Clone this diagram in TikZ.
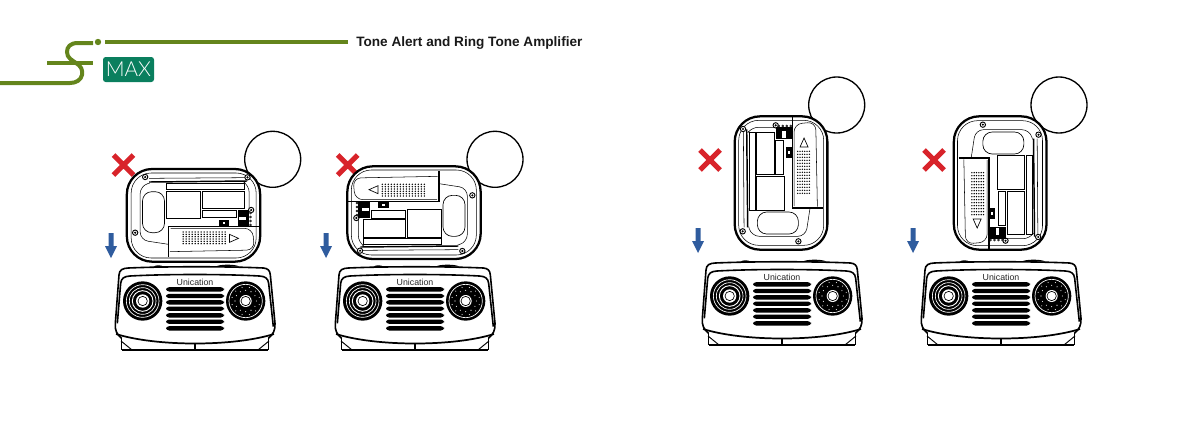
\documentclass[tikz,border=0pt]{standalone}
\usepackage{fontspec}
\setmainfont{Liberation Sans}
\newfontfamily\maxfont{Lato Light}
\definecolor{hdrgreen}{HTML}{64851C}
\definecolor{maxgreen}{HTML}{0A7F5E}
\definecolor{xred}{HTML}{D8232A}
\definecolor{arrblue}{HTML}{2F5C9E}
\tikzset{
  thinline/.style={line width=0.4pt,black},
  badmark/.style={draw=xred,line width=3.9pt},
  downarrow/.style={fill=arrblue,draw=none},
  refcircle/.style={draw=black,line width=1pt},
  titletext/.style={font=\fontsize{10.2}{12}\selectfont\bfseries,anchor=west,inner sep=0pt,text=black!90},
  unitext/.style={font=\fontsize{6.6}{8}\selectfont,text=black!85},
}
\newcommand{\screw}[2]{%
  \draw[line width=0.7pt,fill=white] (#1,#2) circle (8);
  \fill (#1,#2) circle (3.5);}
% pager drawn in a 3x grid, centre at (205,150)
\newcommand{\pagerat}[3]{%
\begin{scope}[shift={(#1,#2)},rotate=#3,scale=1/3,shift={(-205,-150)}]
  \draw[line width=1.7pt,fill=white,rounded corners=19pt] (5,12) rectangle (405,290);
  \draw[thinline,rounded corners=15pt] (18,24) rectangle (393,279);
  % recess
  \draw[thinline,rounded corners=6pt] (74,54) -- (45,62) -- (45,225) -- (130,238);
  \draw[thinline,rounded corners=5pt] (360,54) -- (372,62) -- (372,135);
  % top bar
  \draw[line width=1.1pt] (72,51) -- (366,48);
  \draw[thinline] (72,40) -- (360,38);
  \screw{60}{36}\screw{367}{37}\screw{30}{203}\screw{378}{135}
  % compartments
  \draw[thinline] (122,55) rectangle (358,73);
  \draw[line width=0.5pt] (122,78) rectangle (225,160);
  \draw[line width=0.5pt] (230,78) rectangle (358,130);
  \draw[line width=0.5pt] (230,135) rectangle (332,158);
  \draw[line width=0.5pt,rounded corners=7pt] (52,80) rectangle (118,203);
  % switch block
  \fill (337,135) rectangle (372,185);
  \fill[white] (340,155) rectangle (362,165);
  \fill (280,166) rectangle (312,184);
  \fill[white] (293,172) rectangle (300,178);
  \foreach \yy in {144,156,168,180} \draw[line width=0.35pt,fill=white] (376,\yy) circle (3);
  % battery door
  \draw[line width=1.2pt] (130,276) -- (130,185) -- (405,185);
  \draw[thinline,rounded corners=6pt] (136,190) -- (382,190) -- (388,255) -- (134,260);
  \foreach \gx in {174,183,...,300} \foreach \gy in {201,208,...,237}
     \fill (\gx,\gy) circle (2.3);
  \draw[line width=0.5pt] (313,208) -- (313,232) -- (340,220) -- cycle;
\end{scope}}
% speaker drawn in a 3x grid
\newcommand{\speakerat}[2]{%
\begin{scope}[shift={(#1,#2)},scale=1/3]
  % bumps
  \fill (160,36) .. controls (165,29) and (185,29) .. (192,36) -- cycle;
  \fill (348,35) .. controls (355,27) and (410,27) .. (418,35) -- cycle;
  % outer body
  \draw[line width=1.2pt,line join=round] (65,250) .. controls (50,238) and (44,225) .. (46,205) -- (57,60)
     .. controls (58,44) and (68,40) .. (85,39) .. controls (200,34) and (380,34) .. (490,39)
     .. controls (503,40) and (510,46) .. (511,60) -- (525,205) .. controls (526,225) and (520,238) .. (505,250);
  % inner panel
  \draw[line width=1.2pt] (52,205) -- (62,85) .. controls (64,70) and (72,64) .. (90,63)
     .. controls (200,57) and (370,57) .. (478,63) .. controls (496,64) and (504,70) .. (506,85) -- (520,215);
  % bottom arc
  \draw[line width=1.3pt] (48,237) .. controls (170,275) and (400,275) .. (522,237);
  % base
  \draw[line width=1.5pt] (65,284) -- (505,284);
  \draw[line width=0.8pt] (65,248) -- (65,284) (505,248) -- (505,284) (285,268) -- (285,284);
  \draw[line width=0.7pt] (63,258) -- (95,284) (507,258) -- (475,284);
  % label
  \node[unitext] (brand) at (285,82) {Unication};
  % grille
  \foreach \gy in {103,123,142,161,181,200,220}
    \fill[rounded corners=2.3pt] (198,\gy-6.5) rectangle (372,\gy+6.5);
  % left driver
  \fill (128,138) circle (59);
  \draw[white,line width=0.5pt] (128,138) circle (49);
  \draw[white,line width=0.5pt] (128,138) circle (40);
  \draw[white,line width=0.7pt] (128,138) circle (31);
  \fill[white] (128,138) circle (20);
  \draw[line width=0.5pt] (128,138) circle (14);
  % right driver
  \fill (437,138) circle (59);
  \draw[white,line width=0.5pt] (437,138) circle (50);
  \foreach \rr/\st in {42/15,32/0} \foreach \aa in {0,30,...,330}
    \fill[white] (437,138) ++({\aa+\st}:\rr) circle (1.6);
  \fill[white] (437,138) circle (18);
  \draw[line width=0.5pt] (437,138) circle (14);
\end{scope}}
\newcommand{\crossat}[2]{%
  \draw[badmark] (#1-10,#2-10) -- (#1+10,#2+10) (#1-10,#2+10) -- (#1+10,#2-10);}
\newcommand{\darrowat}[2]{%
  \fill[downarrow] (#1-2.5,#2) -- (#1+2.5,#2) -- (#1+2.5,#2+13) -- (#1+6,#2+13) -- (#1,#2+25)
    -- (#1-6,#2+13) -- (#1-2.5,#2+13) -- cycle;}
\begin{document}
\begin{tikzpicture}[x=0.75pt,y=-0.75pt]
\useasboundingbox (0,0) rectangle (1191,422);
% header
\draw[hdrgreen,line width=3.1pt] (105,42) -- (348,42);
\fill[hdrgreen] (98,42) circle (3.2);
\draw[hdrgreen,line width=3pt] (93,43) -- (78,43) .. controls (70,43) and (67,47) .. (67,52)
   .. controls (67,58) and (72,60) .. (76,63) .. controls (81,66) and (83,70) .. (82,75)
   .. controls (81,80) and (76,83) .. (70,83) -- (0,83);
\draw[hdrgreen,line width=3pt] (47,63) -- (93,63);
\node[titletext] (title) at (356,43) {Tone Alert and Ring Tone Amplifier};
\fill[maxgreen,rounded corners=2pt] (103,57) rectangle (154,82);
\node[font=\fontsize{15.5}{17}\selectfont\maxfont,text=white,inner sep=0pt] (maxlabel) at (128.5,69.5) {MAX};
% reference circles
\draw[refcircle] (272.7,159.3) circle (28);
\draw[refcircle] (495,159.3) circle (28);
\draw[refcircle] (836.7,105) circle (28);
\draw[refcircle] (1059,105) circle (28);
% crosses
\crossat{123.5}{165}
\crossat{347.7}{165}
\crossat{710}{160}
\crossat{934}{160}
% pagers
\pagerat{193.5}{215}{0}
\pagerat{414}{213}{180}
\pagerat{780.7}{183}{90}
\pagerat{1000.5}{183}{-90}
% speakers
\speakerat{100}{255}
\speakerat{320}{255}
\speakerat{687}{250}
\speakerat{906}{250}
% arrows
\darrowat{111}{233}
\darrowat{326}{233}
\darrowat{698}{228}
\darrowat{913}{228}
\end{tikzpicture}
\end{document}
